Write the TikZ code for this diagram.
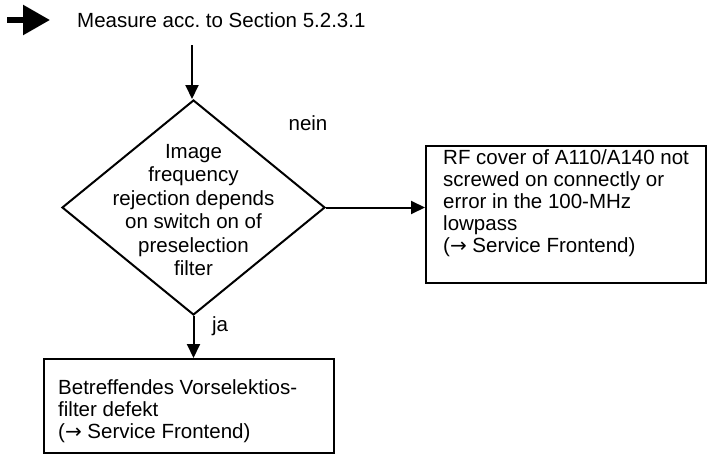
\documentclass[tikz,border=0pt]{standalone}
\usepackage{fontspec}
\setmainfont{Liberation Sans}
\newfontfamily\arrowfont{DejaVu Sans}
\newcommand{\rarr}{{\arrowfont\fontsize{20}{20}\selectfont →}}
\usetikzlibrary{arrows.meta,shapes.geometric,calc}
\begin{document}
\begin{tikzpicture}[x=1pt,y=-1pt,
  line/.style={line width=2pt},
  flow/.style={line, -{Triangle[length=14pt,width=13pt]}},
  boxshape/.style={draw, line width=2pt, inner sep=0pt, minimum width=#1},
  txt/.style={inner sep=0pt, align=left, font=\fontsize{20.5}{22}\selectfont},
  dtxt/.style={inner sep=0pt, align=center, font=\fontsize{20.5}{23.5}\selectfont},
  lbl/.style={inner sep=0pt, font=\fontsize{20.5}{22}\selectfont}]
\useasboundingbox (0,0) rectangle (707,455);
% start arrow
\coordinate (s0) at (7,20);
\coordinate (s1) at (50,20);
\draw[line width=5.6pt, -{Triangle[length=27pt,width=29pt]}] (s0) -- (s1);
\node[lbl, anchor=west] (measure) at (77,20) {Measure acc.\ to Section 5.2.3.1};
% decision
\node[diamond, draw, line width=2pt, inner sep=0pt, minimum width=263pt, minimum height=215pt] (dec) at (193.5,207.5) {};
\node[dtxt] (dect) at (193.5,210) {Image\\frequency\\rejection depends\\on switch on of\\preselection\\filter};
\coordinate (t0) at (192,45);
\draw[flow] (t0) -- (t0 |- dec.north);
% right box
\node[boxshape=280pt, minimum height=137pt, anchor=north west] (rf) at (425,145) {};
\node[txt, anchor=north west] (rft) at (443,149) {RF cover of A110/A140 not\\screwed on connectly or\\error in the 100-MHz\\lowpass\\(\rarr\ Service Frontend)};
\draw[flow] (dec.east) -- (dec.east -| rf.west);
\node[lbl] (nein) at (308,123) {nein};
% bottom box
\node[boxshape=290pt, minimum height=94pt, anchor=north west] (bf) at (43,358) {};
\node[txt, anchor=north west] (bft) at (58,379) {Betreffendes Vorselektios-\\filter defekt\\(\rarr\ Service Frontend)};
\draw[flow] (dec.south) -- (dec.south |- bf.north);
\node[lbl] (ja) at (220,326) {ja};
\end{tikzpicture}
\end{document}
